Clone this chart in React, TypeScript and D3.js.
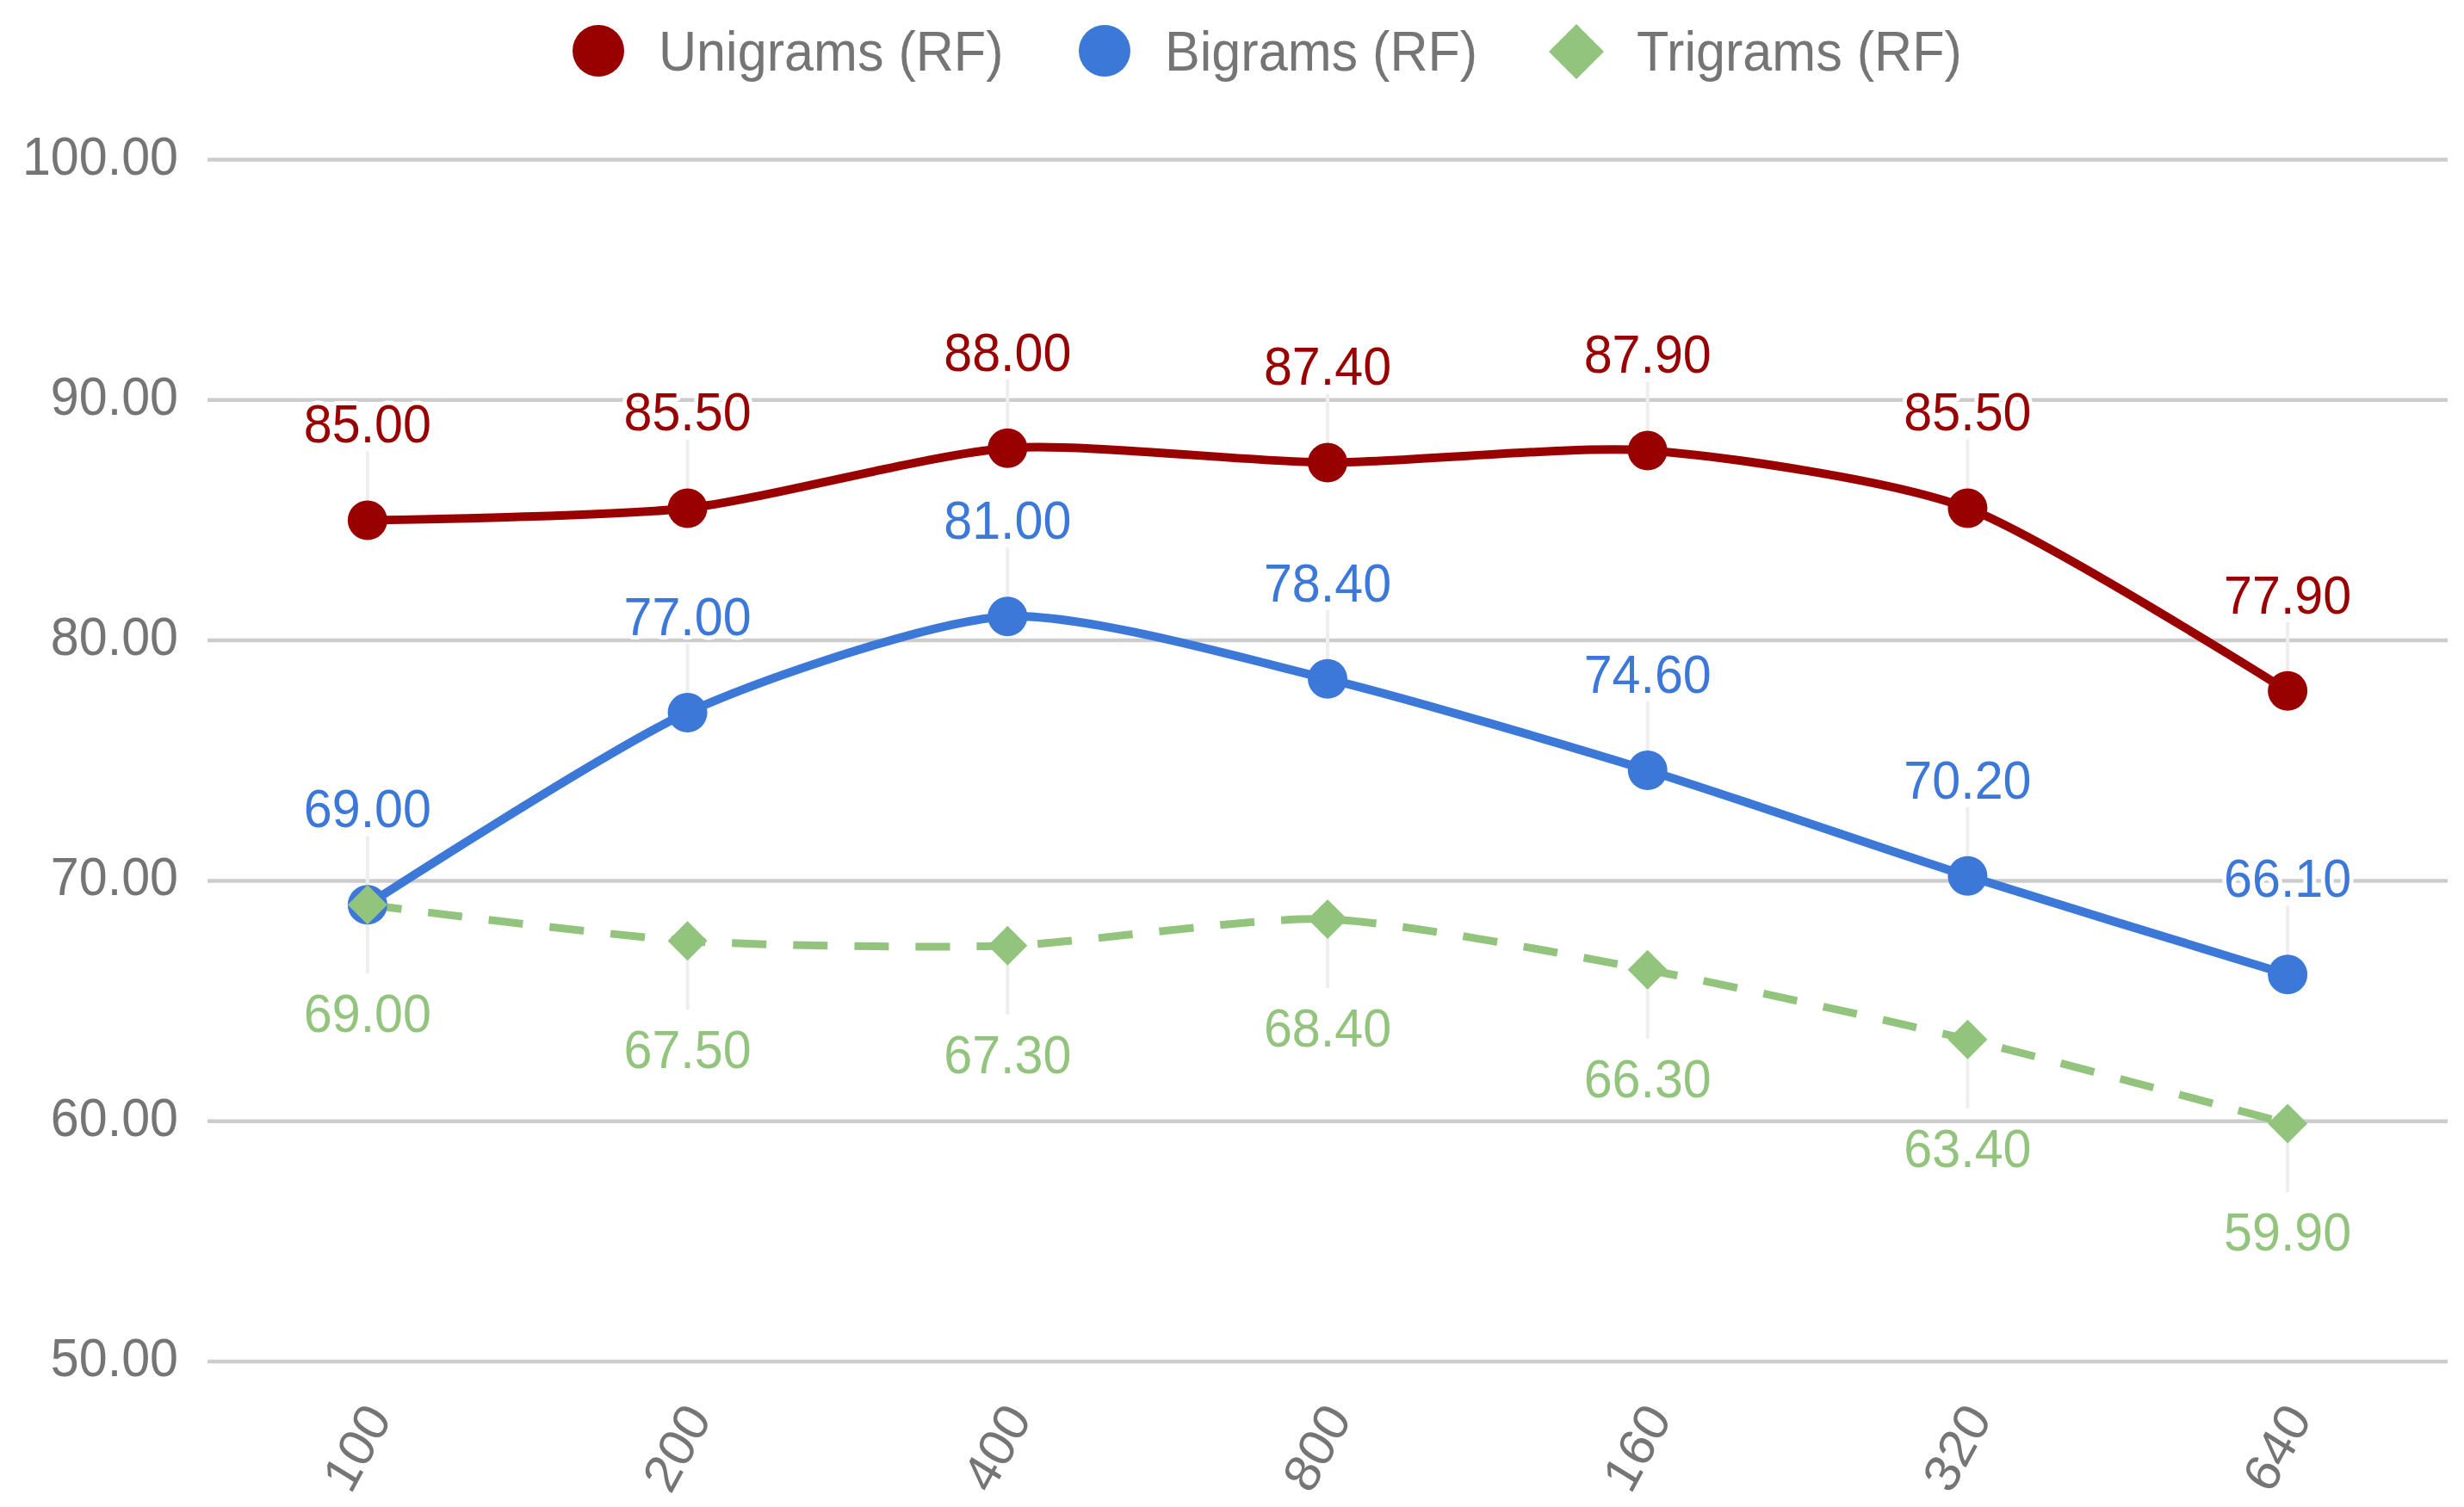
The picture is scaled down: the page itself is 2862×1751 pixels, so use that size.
import React from 'react';
import * as d3 from 'd3';

// valores
const categories = ['100', '200', '400', '800', '160', '320', '640'];
const unigrams = [85.0, 85.5, 88.0, 87.4, 87.9, 85.5, 77.9];
const bigrams = [69.0, 77.0, 81.0, 78.4, 74.6, 70.2, 66.1];
const trigrams = [69.0, 67.5, 67.3, 68.4, 66.3, 63.4, 59.9];
const yTicks = [50, 60, 70, 80, 90, 100];
const seriesNames = ['Unigrams (RF)', 'Bigrams (RF)', 'Trigrams (RF)'];
const seriesColors = ['#990000', '#3c78d8', '#93c47d'];

const W = 2862;
const H = 1751;
const FONT = '"Liberation Sans", Arial, sans-serif';
const SQ = 0.94; // el texto original sale algo estrecho

const App: React.FC = () => {
    const left = 241;
    const right = 2843;
    const top = 185.5;
    const bottom = 1582;

    const x = d3.scalePoint<string>().domain(categories).range([left, right]).padding(0.5);
    const y = d3.scaleLinear().domain([50, 100]).range([bottom, top]);

    const line = d3.line<number>()
        .x((_, i) => x(categories[i]) as number)
        .y(d => y(d))
        .curve(d3.curveCardinal.tension(0.3));

    const series = [
        { name: seriesNames[0], values: unigrams, color: seriesColors[0], shape: 'circle', above: true, dash: undefined, width: 10 },
        { name: seriesNames[1], values: bigrams, color: seriesColors[1], shape: 'circle', above: true, dash: undefined, width: 10 },
        { name: seriesNames[2], values: trigrams, color: seriesColors[2], shape: 'diamond', above: false, dash: '40 31', width: 9 },
    ];

    const diamond = (cx: number, cy: number, r: number) =>
        `M${cx},${cy - r}L${cx + r},${cy}L${cx},${cy + r}L${cx - r},${cy}Z`;

    // posiciones de la leyenda
    const legendX = [695, 1283, 1831];

    return (
        <svg width={W} height={H} style={{ position: 'absolute', left: 0, top: 0, background: '#fff' }} fontFamily={FONT}>
            <rect x={0} y={0} width={W} height={H} fill="#fff" />

            {/* Leyenda */}
            <g>
                {series.map((s, i) => (
                    <g key={s.name}>
                        {s.shape === 'circle'
                            ? <circle cx={legendX[i]} cy={59} r={30} fill={s.color} />
                            : <path d={diamond(legendX[i], 60, 32)} fill={s.color} />}
                        <text
                            transform={`translate(${legendX[i] + 70},82) scale(${SQ},1)`}
                            fontSize={65}
                            fill="#757575"
                        >{s.name}</text>
                    </g>
                ))}
            </g>

            {/* Rejilla y eje Y */}
            <g>
                {yTicks.map(t => (
                    <g key={t}>
                        <line x1={left} x2={right} y1={y(t)} y2={y(t)} stroke="#cccccc" strokeWidth={4.5} />
                        <text
                            transform={`translate(207,${y(t) + 17}) scale(${SQ},1)`}
                            textAnchor="end"
                            fontSize={63}
                            fill="#757575"
                        >{t.toFixed(2)}</text>
                    </g>
                ))}
            </g>

            {/* Eje X */}
            <g>
                {categories.map(c => (
                    <text
                        key={c}
                        transform={`translate(${(x(c) as number) + 29},1648) scale(${SQ},1) rotate(-60)`}
                        textAnchor="end"
                        fontSize={62}
                        fill="#757575"
                    >{c}</text>
                ))}
            </g>

            {/* Tallos de las anotaciones */}
            <g>
                {series.map(s => s.values.map((v, i) => {
                    const px = x(categories[i]) as number;
                    const py = y(v);
                    return (
                        <line key={`${s.name}-stem-${i}`} x1={px} x2={px} y1={py} y2={s.above ? py - 80 : py + 80}
                            stroke="#eeeeee" strokeWidth={4} />
                    );
                }))}
            </g>

            {/* Líneas */}
            <g>
                {series.map(s => (
                    <path key={`${s.name}-line`} d={line(s.values) || ''} fill="none" stroke={s.color}
                        strokeWidth={s.width} strokeDasharray={s.dash} strokeLinejoin="round" />
                ))}
            </g>

            {/* Puntos */}
            <g>
                {series.map(s => s.values.map((v, i) => {
                    const px = x(categories[i]) as number;
                    const py = y(v);
                    return s.shape === 'circle'
                        ? <circle key={`${s.name}-pt-${i}`} cx={px} cy={py} r={23} fill={s.color} />
                        : <path key={`${s.name}-pt-${i}`} d={diamond(px, py, 23)} fill={s.color} />;
                }))}
            </g>

            {/* Etiquetas de valores */}
            <g>
                {series.map(s => s.values.map((v, i) => {
                    const px = x(categories[i]) as number;
                    const py = y(v);
                    return (
                        <text
                            key={`${s.name}-lbl-${i}`}
                            transform={`translate(${px},${s.above ? py - 90 : py + 148}) scale(${SQ},1)`}
                            textAnchor="middle"
                            fontSize={63}
                            fill={s.color}
                            stroke="#ffffff"
                            strokeWidth={10}
                            strokeLinejoin="round"
                            paintOrder="stroke"
                        >{v.toFixed(2)}</text>
                    );
                }))}
            </g>
        </svg>
    );
};

export default App;
